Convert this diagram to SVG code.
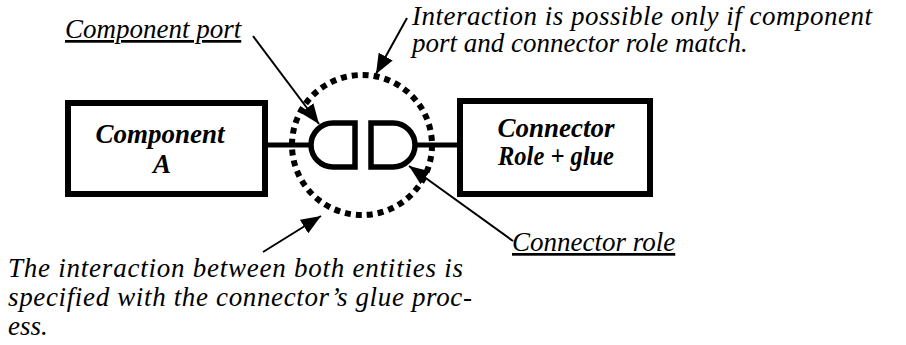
<svg xmlns="http://www.w3.org/2000/svg" width="906" height="345" viewBox="0 0 906 345">
<defs>
<style>
.box{fill:#fff;stroke:#000;stroke-width:6}
.thick{fill:none;stroke:#000;stroke-width:5}
.shape{fill:#fff;stroke:#000;stroke-width:5.5}
.dots{fill:none;stroke:#000;stroke-width:6;stroke-dasharray:6 5}
.arrow{fill:none;stroke:#000;stroke-width:2;marker-end:url(#ah)}
text{font-style:italic;font-size:27px;fill:#000}
.bold{font-weight:bold;text-anchor:middle}
.ul{text-decoration:underline}
</style>
<marker id="ah" markerUnits="userSpaceOnUse" markerWidth="22" markerHeight="16" refX="20" refY="8" orient="auto">
<path d="M0,0 L20,8 L0,16 Z" fill="#000"/>
</marker>
</defs>
<rect width="906" height="345" fill="#fff"/>

<g id="connectors">
<line class="thick" x1="268" y1="145" x2="311" y2="145"/>
<line class="thick" x1="415" y1="145" x2="457" y2="145"/>
<line class="arrow" x1="253" y1="36" x2="319" y2="124"/>
<line class="arrow" x1="407" y1="18" x2="376" y2="74"/>
<line class="arrow" x1="263" y1="252" x2="321" y2="216"/>
<line class="arrow" x1="513" y1="241" x2="409" y2="166"/>
</g>

<g id="component-a" font-family="'Liberation Serif', 'DejaVu Serif', serif">
<rect class="box" x="68" y="103" width="197" height="91"/>
<text class="bold" x="160" y="143">Component</text>
<text class="bold" x="162" y="173">A</text>
</g>

<g id="connector" font-family="'Liberation Serif', 'DejaVu Serif', serif">
<rect class="box" x="460" y="101" width="190" height="93"/>
<text class="bold" x="556" y="137">Connector</text>
<text class="bold" x="556" y="165" textLength="116" lengthAdjust="spacingAndGlyphs">Role + glue</text>
</g>

<g id="interaction-zone">
<circle class="dots" cx="362" cy="145" r="70"/>
</g>

<g id="component-port">
<path class="shape" d="M355,123 H333 A22,22 0 0 0 333,167 H355 Z"/>
</g>

<g id="connector-role">
<path class="shape" d="M371,123 H393 A22,22 0 0 1 393,167 H371 Z"/>
</g>

<g id="labels" font-family="'Liberation Serif', 'DejaVu Serif', serif">
<text class="ul" x="65" y="38">Component port</text>
<text x="412" y="25" textLength="460" lengthAdjust="spacing">Interaction is possible only if component</text>
<text x="412" y="52">port and connector role match.</text>
<text class="ul" x="512" y="251">Connector role</text>
<text x="8" y="277" textLength="455" lengthAdjust="spacing">The interaction between both entities is</text>
<text x="8" y="306" textLength="464" lengthAdjust="spacing">specified with the connector’s glue proc-</text>
<text x="8" y="335">ess.</text>
</g>
</svg>
